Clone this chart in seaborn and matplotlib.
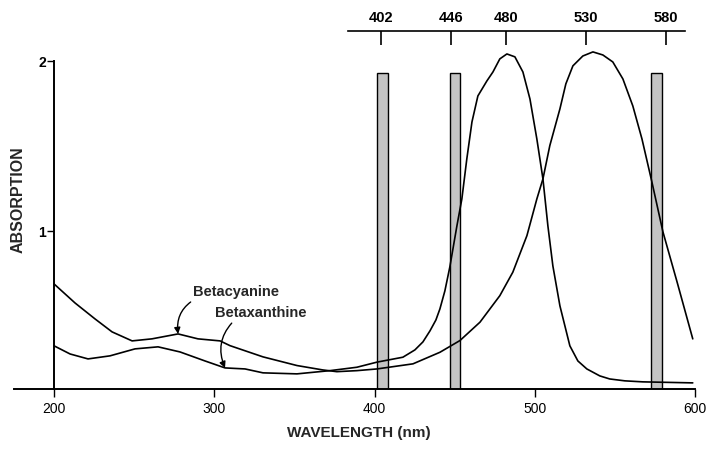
import pandas as pd
import seaborn as sns
import matplotlib.pyplot as plt

# valeurs (nm, absorption)
cyan_nm = [200.0, 213.1, 225.6, 236.2, 248.7, 261.1, 277.4, 289.8, 303.6, 309.8,
           330.4, 351.6, 367.8, 376.5, 389.0, 401.5, 424.0, 440.8, 453.3, 465.8,
           478.2, 486.3, 495.1, 501.3, 505.1, 509.4, 515.7, 519.4, 523.8, 530.0,
           536.3, 542.5, 548.7, 555.0, 561.2, 566.9, 573.1, 580.0, 588.8, 598.6]
cyan_abs = [0.688, 0.576, 0.482, 0.406, 0.353, 0.365, 0.394, 0.365, 0.353, 0.325,
            0.259, 0.208, 0.182, 0.172, 0.178, 0.188, 0.218, 0.286, 0.355, 0.463,
            0.619, 0.757, 0.972, 1.188, 1.306, 1.502, 1.718, 1.865, 1.971, 2.029,
            2.053, 2.035, 1.994, 1.894, 1.735, 1.541, 1.288, 0.994, 0.700, 0.365]

xan_nm = [200.0, 210.0, 221.2, 234.9, 250.5, 264.9, 278.6, 294.2, 306.7, 319.2,
          330.4, 351.6, 372.2, 389.0, 401.5, 417.7, 425.2, 430.2, 434.6, 438.3,
          440.8, 443.9, 447.0, 451.4, 454.5, 457.6, 460.8, 464.5, 470.1, 473.9,
          478.2, 482.6, 487.6, 492.6, 497.0, 501.3, 505.1, 508.2, 511.3, 515.7,
          521.9, 526.9, 532.5, 540.6, 546.8, 556.2, 567.4, 598.6]
xan_abs = [0.324, 0.276, 0.247, 0.265, 0.306, 0.318, 0.288, 0.235, 0.194, 0.188,
           0.165, 0.159, 0.178, 0.198, 0.228, 0.257, 0.300, 0.347, 0.412, 0.476,
           0.541, 0.647, 0.788, 1.029, 1.188, 1.424, 1.641, 1.794, 1.882, 1.935,
           2.012, 2.041, 2.024, 1.935, 1.776, 1.541, 1.306, 1.029, 0.794, 0.559,
           0.324, 0.235, 0.188, 0.147, 0.129, 0.118, 0.112, 0.106]

# filtres (centre, largeur en nm, hauteur)
filt_pos = [405.0, 450.2, 575.7]
filt_width = [7.2, 6.2, 6.9]
filt_top = 1.93

top_ticks = [402, 446, 480, 530, 580]
bottom_ticks = [200, 300, 400, 500, 600]

sns.set_theme(style='ticks')
plt.rcParams['font.family'] = ['Liberation Sans', 'DejaVu Sans']

fig = plt.figure(figsize=(7.07, 4.52), dpi=100)
ax = fig.add_axes([14 / 707, 1 - 390 / 452, 681 / 707, 358 / 452])

y0 = 0.07
ax.set_xlim(175, 600)
ax.set_ylim(y0, 2.176)

ax.bar(filt_pos, [filt_top - y0] * 3, bottom=y0, width=filt_width,
       color='#c4c4c4', edgecolor='black', linewidth=1.0, zorder=2)

sns.lineplot(x=cyan_nm, y=cyan_abs, ax=ax, color='black', linewidth=1.2, zorder=3)
sns.lineplot(x=xan_nm, y=xan_abs, ax=ax, color='black', linewidth=1.2, zorder=3)

# axes
for s in ['top', 'right']:
    ax.spines[s].set_visible(False)
ax.spines['left'].set_position(('data', 200))
ax.spines['left'].set_bounds(y0, 2.0)
ax.spines['bottom'].set_bounds(175, 600)
for s in ['left', 'bottom']:
    ax.spines[s].set_color('black')
    ax.spines[s].set_linewidth(1.4)

ax.set_xticks(bottom_ticks)
ax.set_xticklabels([str(t) for t in bottom_ticks])
ax.set_yticks([1, 2])
ax.set_yticklabels(['1', '2'])
ax.tick_params(axis='x', direction='out', length=6, width=1, color='black',
               labelsize=10, pad=3, labelcolor='black')
ax.tick_params(axis='y', direction='out', length=5, width=1, color='black',
               labelsize=10, pad=1, labelcolor='black')
for lbl in ax.get_yticklabels():
    lbl.set_fontweight('bold')

# echelle du haut
ax2 = ax.twiny()
ax2.set_xlim(173.2, 598.2)
for s in ['bottom', 'left', 'right']:
    ax2.spines[s].set_visible(False)
ax2.spines['top'].set_bounds(381.6, 592.2)
ax2.spines['top'].set_color('black')
ax2.spines['top'].set_linewidth(1.2)
ax2.set_xticks(top_ticks)
ax2.set_xticklabels([str(t) for t in top_ticks])
ax2.tick_params(axis='x', direction='in', length=10, width=1.2, color='black',
                labelsize=10.5, pad=5, labelcolor='black')
for lbl in ax2.get_xticklabels():
    lbl.set_fontweight('bold')

# noms des courbes
ax.annotate('Betacyanine', xy=(cyan_nm[6], cyan_abs[6]), xytext=(286.7, 0.647),
            ha='left', va='center', fontsize=10.5, fontweight='bold',
            arrowprops=dict(arrowstyle='-|>', color='black', lw=1,
                            connectionstyle='arc3,rad=0.35', relpos=(0.05, 0.0),
                            shrinkA=1, shrinkB=0, mutation_scale=9))
ax.annotate('Betaxanthine', xy=(xan_nm[8], xan_abs[8]), xytext=(300.4, 0.524),
            ha='left', va='center', fontsize=10.5, fontweight='bold',
            arrowprops=dict(arrowstyle='-|>', color='black', lw=1,
                            connectionstyle='arc3,rad=0.35', relpos=(0.23, 0.0),
                            shrinkA=1, shrinkB=0, mutation_scale=9))

fig.text(359 / 707, 1 - 433 / 452, 'WAVELENGTH (nm)', ha='center', va='center',
         fontsize=11, fontweight='bold')
fig.text(18 / 707, 1 - 200 / 452, 'ABSORPTION', ha='center', va='center',
         rotation=90, fontsize=11.5, fontweight='bold')

fig.savefig('out.png', dpi=100)
